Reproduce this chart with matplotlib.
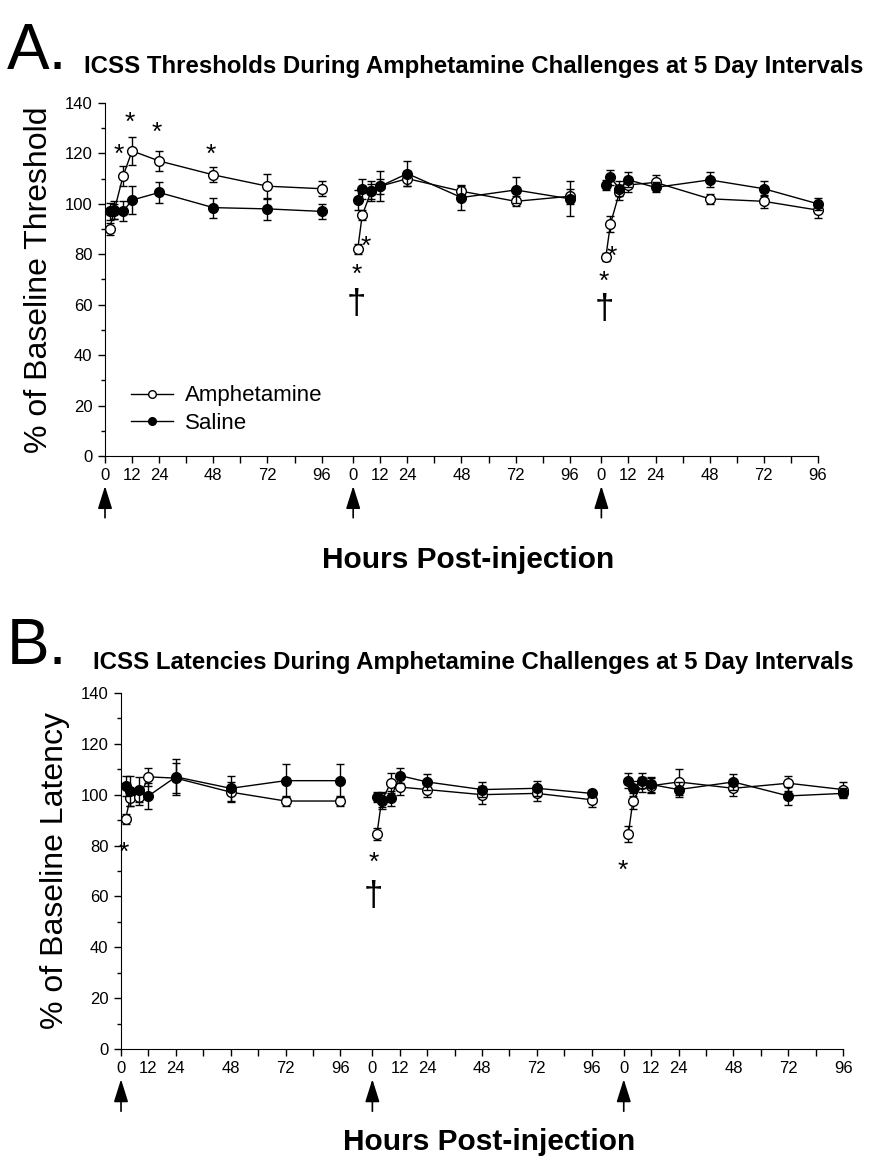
import numpy as np
import matplotlib.pyplot as plt
from matplotlib.lines import Line2D

plt.rcParams['font.family'] = ['Liberation Sans', 'DejaVu Sans']

# sampling times (h post-injection) within each challenge
hours = [2, 4, 8, 12, 24, 48, 72, 96]
seg_offset = [0, 110, 220]          # where each 5-day block starts on the shared axis
tick_hours = [0, 12, 24, 36, 48, 60, 72, 84, 96]
tick_text = ['0', '12', '24', '', '48', '', '72', '', '96']

# Panel A: ICSS thresholds (% baseline)
thr_amph = [[90, 97, 111, 121, 117, 111.5, 107, 106],
            [82, 95.5, 105, 107, 110, 105, 101, 103],
            [79, 92, 104.5, 107.5, 108.5, 102, 101, 97.5]]
thr_amph_err = [[2.5, 3, 4, 5.5, 4, 3, 5, 3],
                [2, 2, 3, 3, 3, 2, 2, 3],
                [1.5, 3, 3, 3, 3, 2, 2.5, 3]]
thr_sal = [[97, 97.5, 97, 101.5, 104.5, 98.5, 98, 97],
           [101.5, 106, 105, 107, 112, 102.5, 105.5, 102],
           [107.5, 110.5, 106, 109.5, 106.5, 109.5, 106, 100]]
thr_sal_err = [[3.5, 3.5, 4, 5.5, 4, 4, 4.5, 3],
               [4, 4, 4, 6, 5, 5, 5, 7],
               [2, 3, 3, 3, 2, 3, 3, 2.5]]

# Panel B: ICSS latencies (% baseline)
lat_amph = [[90.5, 98.5, 99, 107, 106.5, 101, 97.5, 97.5],
            [84.5, 97.5, 104.5, 103, 102, 100, 100.5, 98],
            [84.5, 97.5, 104, 103.5, 105, 102.5, 104.5, 102]]
lat_amph_err = [[2, 3, 3, 3.5, 6, 4, 2, 2],
                [2.5, 3, 4, 3, 3, 3.5, 3, 3],
                [3, 3, 3, 3, 5, 3, 3, 3]]
lat_sal = [[103.5, 101.5, 102, 99.5, 107, 102.5, 105.5, 105.5],
           [99, 98, 98.5, 107.5, 105, 102, 102.5, 100.5],
           [105.5, 102.5, 105.5, 104, 102, 105, 99.5, 100.5]]
lat_sal_err = [[4, 6, 5, 5, 7, 5, 6.5, 6.5],
               [2, 3, 3, 3, 3, 3, 3, 1.5],
               [3, 3, 3, 3, 3, 3, 3.5, 2]]

# significance marks: (segment, hour, y, symbol)
thr_marks = [(0, 6, 123.5, '*'), (0, 11, 136, '*'), (0, 23, 132, '*'), (0, 47, 123.5, '*'),
             (1, 5.5, 87, '*'), (1, 1.5, 76, '*'), (1, 1.5, 60, '\u2020'),
             (2, 4.5, 83, '*'), (2, 1.2, 73, '*'), (2, 1.2, 58, '\u2020')]
lat_marks = [(0, 1.3, 81, '*'), (1, 0.5, 77, '*'), (1, 0.5, 60, '\u2020'), (2, -0.5, 74, '*')]


def draw_panel(ax, amph, amph_err, sal, sal_err, marks, ylabel, xlab_y):
    for s, off in enumerate(seg_offset):
        x = np.array(hours) + off
        ax.errorbar(x, amph[s], yerr=amph_err[s], fmt='-o', color='black', mfc='white',
                    mec='black', ms=7, mew=1, lw=1, elinewidth=1, capsize=3, capthick=1,
                    clip_on=False, zorder=3)
        ax.errorbar(x, sal[s], yerr=sal_err[s], fmt='-o', color='black', mfc='black',
                    mec='black', ms=7, mew=1, lw=1, elinewidth=1, capsize=3, capthick=1,
                    clip_on=False, zorder=4)
    for s, h, y, sym in marks:
        if sym == '*':
            ax.text(seg_offset[s] + h, y - 4, sym, fontsize=19, ha='center', va='center')
        else:
            ax.text(seg_offset[s] + h, y, sym, fontsize=25, ha='center', va='center')

    ticks, labels = [], []
    for off in seg_offset:
        ticks += [off + t for t in tick_hours]
        labels += tick_text
    ax.set_xticks(ticks)
    ax.set_xticklabels(labels)
    ax.set_xlim(0, 316)
    ax.set_ylim(0, 140)
    ax.set_yticks(range(0, 141, 20))
    ax.set_yticks(range(10, 140, 20), minor=True)
    ax.tick_params(axis='both', which='major', labelsize=12, length=5, width=1, pad=4)
    ax.tick_params(axis='y', which='minor', length=3, width=1)
    ax.spines['top'].set_visible(False)
    ax.spines['right'].set_visible(False)
    ax.set_ylabel(ylabel, fontsize=23, labelpad=8)

    # injection arrows under each block
    for off in seg_offset:
        ax.annotate('', xy=(off, -0.085), xytext=(off, -0.175),
                    xycoords=ax.get_xaxis_transform(),
                    textcoords=ax.get_xaxis_transform(),
                    arrowprops=dict(arrowstyle='-|>,head_length=0.7,head_width=0.22',
                                    mutation_scale=20, color='black', lw=1.2,
                                    shrinkA=0, shrinkB=0))
    ax.text(0.51, xlab_y, 'Hours Post-injection', transform=ax.transAxes,
            fontsize=21.5, fontweight='bold', ha='center', va='center')


fig = plt.figure(figsize=(8.7, 11.65), dpi=100)
axA = fig.add_axes([0.1207, 0.6086, 0.8195, 0.3030])
axB = fig.add_axes([0.1391, 0.0996, 0.8300, 0.3056])

draw_panel(axA, thr_amph, thr_amph_err, thr_sal, thr_sal_err, thr_marks,
           '% of Baseline Threshold', -0.295)
draw_panel(axB, lat_amph, lat_amph_err, lat_sal, lat_sal_err, lat_marks,
           '% of Baseline Latency', -0.26)

fig.text(0.544, 1 - 67 / 1165, 'ICSS Thresholds During Amphetamine Challenges at 5 Day Intervals',
         fontsize=17.3, fontweight='bold', ha='center', va='center')
fig.text(0.544, 1 - 662 / 1165, 'ICSS Latencies During Amphetamine Challenges at 5 Day Intervals',
         fontsize=17.3, fontweight='bold', ha='center', va='center')

handles = [Line2D([], [], color='black', lw=1, marker='o', ms=5.5, mfc='white', mec='black'),
           Line2D([], [], color='black', lw=1, marker='o', ms=5.5, mfc='black', mec='black')]
axA.legend(handles, ['Amphetamine', 'Saline'], loc='upper left',
           bbox_to_anchor=(0.036, 0.2), frameon=False, fontsize=16,
           handlelength=1.9, handletextpad=0.55, labelspacing=0.3, borderpad=0,
           borderaxespad=0)

fig.text(0.008, 0.955, 'A.', fontsize=46, va='center', ha='left')
fig.text(0.008, 0.445, 'B.', fontsize=46, va='center', ha='left')

fig.savefig('out.png', dpi=100)
